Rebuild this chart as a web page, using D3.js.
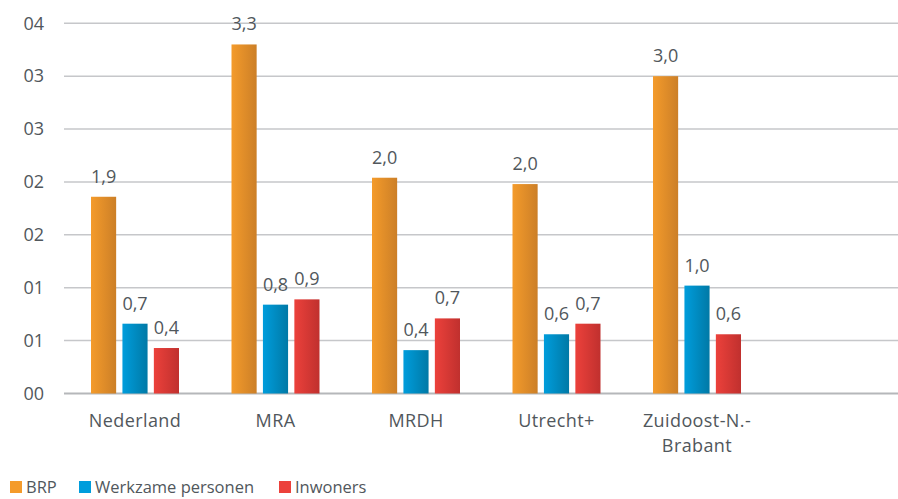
<!DOCTYPE html>
<html>
<head>
<meta charset="utf-8">
<script src="https://cdn.jsdelivr.net/npm/d3@7"></script>
<style>
  html, body { margin: 0; padding: 0; background: #fff; }
  svg { display: block; font-family: 'Open Sans', sans-serif; }
</style>
</head>
<body>
<div id="chart"></div>
<script>
const categories = ['Nederland', 'MRA', 'MRDH', 'Utrecht+', 'Zuidoost-N.-|Brabant', ''];
const series = ['BRP', 'Werkzame personen', 'Inwoners'];
const brp = [1.86, 3.30, 2.04, 1.98, 3.00];
const werkzame = [0.66, 0.84, 0.41, 0.56, 1.02];
const inwoners = [0.43, 0.89, 0.71, 0.66, 0.56];
const tickValues = [0, 0.5, 1, 1.5, 2, 2.5, 3, 3.5];
const tickLabels = ['00', '01', '01', '02', '02', '03', '03', '04'];

const colors = {
  'BRP': ['#f49b2b', '#cc7f27'],
  'Werkzame personen': ['#009ddc', '#0079a6'],
  'Inwoners': ['#ec413b', '#c0302e'],
};

const W = 898;
const H = 499;
const textColor = '#51575c';

const svg = d3.select('#chart')
  .append('svg')
  .attr('width', W)
  .attr('height', H);

const defs = svg.append('defs');
series.forEach((s, i) => {
  const grad = defs.append('linearGradient')
    .attr('id', `grad${i}`)
    .attr('x1', 0).attr('x2', 1).attr('y1', 0).attr('y2', 0);
  grad.append('stop').attr('offset', '0%').attr('stop-color', colors[s][0]);
  grad.append('stop').attr('offset', '100%').attr('stop-color', colors[s][1]);
});

// the plot runs past the right edge of the window (empty 6th slot)
const x0 = d3.scaleBand()
  .domain(categories)
  .range([64.75, 907.75]);

const x1 = d3.scaleBand()
  .domain(series)
  .range([0, 88])
  .paddingInner(0.2);

const y = d3.scaleLinear()
  .domain([0, 3.5])
  .range([393.5, 23.3]);

// gridlines
svg.append('g')
  .selectAll('line')
  .data(tickValues)
  .join('line')
  .attr('x1', 64)
  .attr('x2', W)
  .attr('y1', d => y(d))
  .attr('y2', d => y(d))
  .attr('stroke', d => d === 0 ? '#b5b7ba' : '#c6c7ca')
  .attr('stroke-width', d => d === 0 ? 2 : 1.5);

// y axis labels
svg.append('g')
  .selectAll('text')
  .data(tickValues)
  .join('text')
  .attr('x', 44)
  .attr('y', d => y(d))
  .attr('dy', '0.35em')
  .attr('text-anchor', 'end')
  .attr('font-size', 18)
  .attr('fill', textColor)
  .text((d, i) => tickLabels[i]);

const fmt = d3.formatLocale({ decimal: ',', thousands: '.', grouping: [3], currency: ['€', ''] }).format('.1f');

const rows = categories.slice(0, brp.length).map((c, i) => ({
  cat: c,
  vals: [
    { s: 'BRP', v: brp[i] },
    { s: 'Werkzame personen', v: werkzame[i] },
    { s: 'Inwoners', v: inwoners[i] },
  ],
}));

const groups = svg.append('g')
  .selectAll('g')
  .data(rows)
  .join('g')
  .attr('transform', d => `translate(${x0(d.cat) + (x0.bandwidth() - 88) / 2},0)`);

groups.selectAll('rect')
  .data(d => d.vals)
  .join('rect')
  .attr('x', d => x1(d.s))
  .attr('width', x1.bandwidth())
  .attr('y', d => y(d.v))
  .attr('height', d => y(0) - y(d.v))
  .attr('fill', d => `url(#grad${series.indexOf(d.s)})`);

groups.selectAll('text')
  .data(d => d.vals)
  .join('text')
  .attr('x', d => x1(d.s) + x1.bandwidth() / 2)
  .attr('y', d => y(d.v) - 14)
  .attr('text-anchor', 'middle')
  .attr('font-size', 18)
  .attr('fill', textColor)
  .text(d => fmt(d.v));

// category labels
const catLabels = svg.append('g')
  .selectAll('text')
  .data(categories.filter(c => c))
  .join('text')
  .attr('x', d => x0(d) + x0.bandwidth() / 2)
  .attr('y', 427)
  .attr('text-anchor', 'middle')
  .attr('font-size', 18)
  .attr('letter-spacing', 0.4)
  .attr('fill', textColor);

catLabels.selectAll('tspan')
  .data(d => d.split('|'))
  .join('tspan')
  .attr('x', function () { return d3.select(this.parentNode).attr('x'); })
  .attr('dy', (d, i) => i === 0 ? 0 : 25)
  .text(d => d);

// legend
const legendX = [10, 79, 279];
const legend = svg.append('g')
  .selectAll('g')
  .data(series)
  .join('g')
  .attr('transform', (d, i) => `translate(${legendX[i]},481)`);

legend.append('rect')
  .attr('width', 12)
  .attr('height', 12)
  .attr('fill', d => colors[d][0]);

legend.append('text')
  .attr('x', 16)
  .attr('y', 12)
  .attr('font-size', 16.5)
  .attr('fill', textColor)
  .text(d => d);
</script>
</body>
</html>
